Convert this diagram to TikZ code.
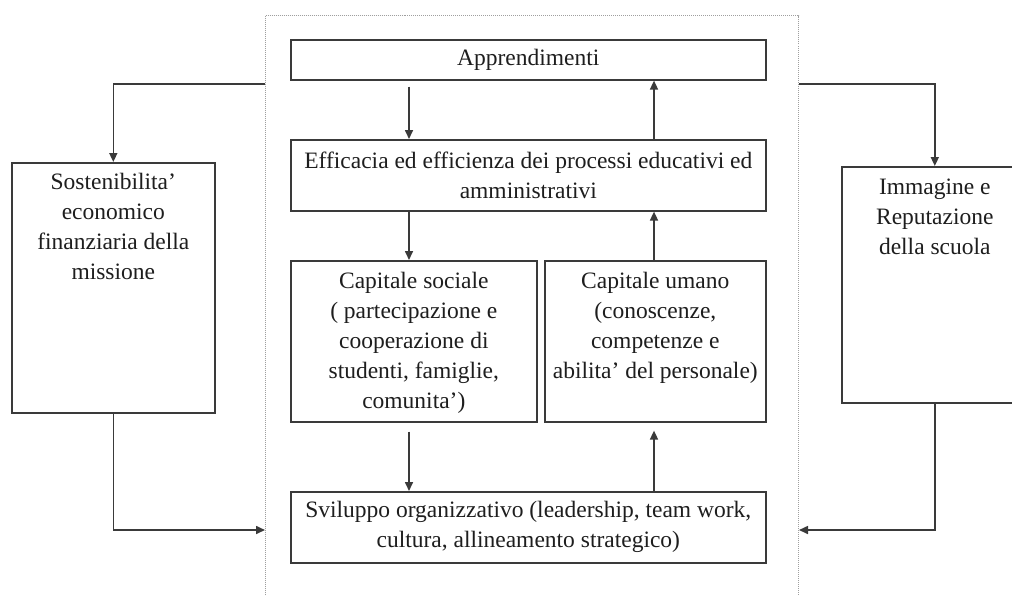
\documentclass[tikz,border=0pt]{standalone}
\usepackage{fontspec}
\setmainfont{Liberation Serif}
\usetikzlibrary{arrows.meta}
\definecolor{boxc}{HTML}{3A3A3A}
\definecolor{txtc}{HTML}{1E1E1E}
\newcommand{\topbox}[4]{\parbox[c][#2][t]{#1}{\centering\rule{0pt}{#3}#4}}
\newcommand{\midbox}[3]{\parbox[c][#2][c]{#1}{\centering #3}}
\tikzset{
  box/.style={draw=boxc, line width=1.6pt, inner sep=0pt, anchor=north west,
    font=\fontsize{23.5}{30}\selectfont, text=txtc},
  frame/.style={draw=gray!75, line width=1pt, dash pattern=on 1pt off 1pt,
    inner sep=0pt, anchor=north west},
  arr/.style={draw=boxc, line width=1.6pt, -{Triangle[length=9pt,width=8pt]}}
}
\begin{document}
\begin{tikzpicture}[x=1pt,y=-1pt]
\clip (0,0) rectangle (1012,595);
\fill[white] (0,0) rectangle (1012,595);
\node[frame, minimum width=533pt, minimum height=620pt] (frame) at (265,15) {};
\node[box] (appr) at (290,39) {\midbox{475pt}{40pt}{Apprendimenti}};
\node[box] (eff) at (290,139) {\midbox{475pt}{71pt}{Efficacia ed efficienza dei processi educativi ed\\ amministrativi}};
\node[box] (soc) at (290,260) {\topbox{246pt}{161pt}{28pt}{Capitale sociale\\ ( partecipazione e\\ cooperazione di\\ studenti, famiglie,\\ comunita')}};
\node[box] (um) at (544,260) {\topbox{221pt}{161pt}{28pt}{Capitale umano\\ (conoscenze,\\ competenze e\\ abilita' del personale)}};
\node[box] (svil) at (290,491) {\midbox{475pt}{71pt}{Sviluppo organizzativo (leadership, team work,\\ cultura, allineamento strategico)}};
\node[box] (sost) at (11,162) {\topbox{203pt}{250pt}{27pt}{Sostenibilita'\\ economico\\ finanziaria della\\ missione}};
\node[box] (imm) at (841,166) {\topbox{186pt}{236pt}{28pt}{Immagine e\\ Reputazione\\ della scuola}};
\coordinate (xl) at (409,0);
\coordinate (xr) at (654,0);
\coordinate (fl) at (frame.west |- 0,84);
\coordinate (fr) at (frame.east |- 0,84);
\coordinate (fbl) at (frame.west |- 0,530);
\coordinate (fbr) at (frame.east |- 0,530);
\draw[arr] (fl) -| (sost.north);
\draw[arr] (fr) -| (imm.north);
\draw[arr] (sost.south) |- (fbl);
\draw[arr] (imm.south) |- (fbr);
\draw[arr, shorten <=6pt] (appr.south -| xl) -- (eff.north -| xl);
\draw[arr] (eff.north -| xr) -- (appr.south -| xr);
\draw[arr] (eff.south -| xl) -- (soc.north -| xl);
\draw[arr] (um.north -| xr) -- (eff.south -| xr);
\draw[arr, shorten <=9pt] (soc.south -| xl) -- (svil.north -| xl);
\draw[arr, shorten >=8pt] (svil.north -| xr) -- (um.south -| xr);
\end{tikzpicture}
\end{document}
